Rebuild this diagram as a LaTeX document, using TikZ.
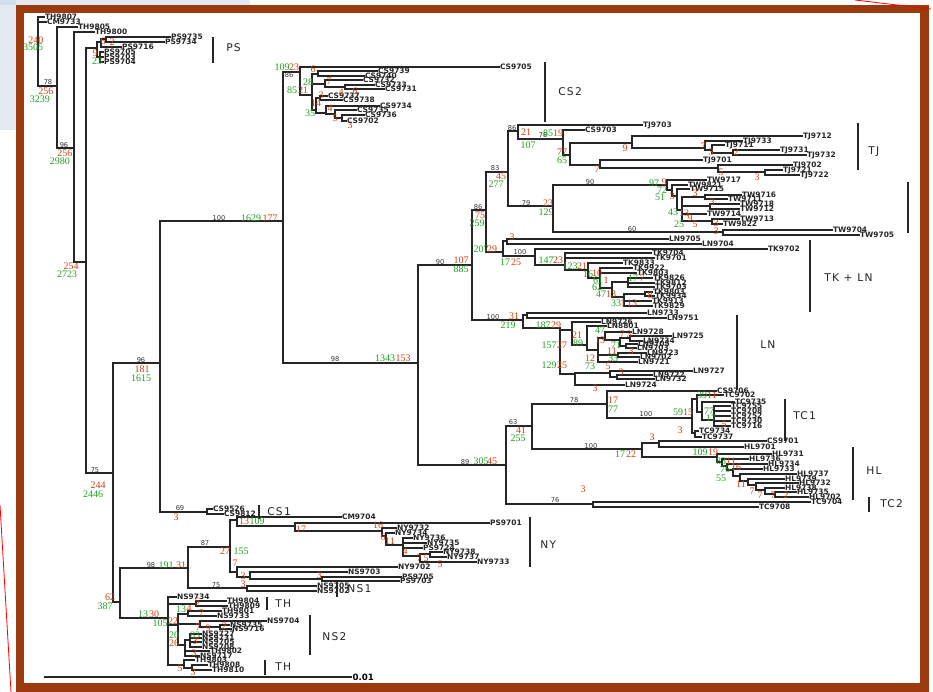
\documentclass[tikz,border=0pt]{standalone}
\usepackage{fontspec}
\newfontfamily\leaffont{DejaVu Sans}
\newfontfamily\numfont{Liberation Serif}
\newfontfamily\cladefont[LetterSpace=12]{DejaVu Sans}
\definecolor{framec}{HTML}{9B3A0F}
\definecolor{numred}{HTML}{D04010}
\definecolor{numgreen}{HTML}{1FA01F}
\definecolor{wm}{HTML}{BFD0E2}
\newcount\nodecnt
\tikzset{
 br/.style={line width=0.95pt, black!85, line cap=rect},
 leaf/.style={anchor=west, inner sep=0.6pt, font={\leaffont\bfseries\fontsize{5.6}{6}\selectfont}, text=black!85},
 rnum/.style={inner sep=0pt, font={\numfont\fontsize{7.5}{8}\selectfont}, text=numred},
 gnum/.style={inner sep=0pt, font={\numfont\fontsize{7.5}{8}\selectfont}, text=numgreen},
 bnum/.style={inner sep=0pt, font={\leaffont\fontsize{5}{5}\selectfont}, text=black!80},
 cbar/.style={line width=1.3pt, black!85},
 clade/.style={anchor=west, inner sep=0pt, font={\cladefont\fontsize{8}{9}\selectfont}, text=black!85}
}
\newcommand\vlin[3]{\draw[br] (#1,#2) -- (#1,#3);}
\newcommand\hlin[3]{\draw[br] (#1,#3) -- (#2,#3);}
\newcommand\leafl[4]{\global\advance\nodecnt by 1 \node[leaf] (lf\the\nodecnt) at (#2,#3) {#4}; \draw[br] (#1,#3) -- (lf\the\nodecnt.west);}
\newcommand\numr[3]{\global\advance\nodecnt by 1 \node[rnum] (nm\the\nodecnt) at (#1,#2) {#3};}
\newcommand\numg[3]{\global\advance\nodecnt by 1 \node[gnum] (nm\the\nodecnt) at (#1,#2) {#3};}
\newcommand\numb[3]{\global\advance\nodecnt by 1 \node[bnum] (nm\the\nodecnt) at (#1,#2) {#3};}
\newcommand\cladebar[3]{\draw[cbar] (#1,#2) -- (#1,#3);}
\newcommand\cladelab[3]{\global\advance\nodecnt by 1 \node[clade] (cl\the\nodecnt) at (#1,#2) {#3};}
\begin{document}
\begin{tikzpicture}[x=0.75pt,y=-0.75pt]
\useasboundingbox (0,0) rectangle (933,692);
\fill[white] (0,0) rectangle (933,692);
\fill[wm,opacity=0.45] (0,0) rectangle (250,5);
\fill[wm,opacity=0.45] (0,0) rectangle (16,130);
\fill[framec] (16,5) rectangle (929,692);
\fill[white] (24,13) rectangle (920,683);
\draw[red,line width=0.6pt] (0,505) -- (11,692);
\draw[red,line width=0.6pt] (855,0) -- (931,9);
% ---------- backbone ----------
\vlin{38}{17}{86}
\hlin{38}{57}{86}
\leafl{38}{44}{17}{TH9807}
\leafl{38}{46}{22}{CM9733}
\vlin{57}{27}{148}
\hlin{57}{74}{148}
\leafl{57}{77}{27}{TH9805}
\vlin{74}{32}{262}
\hlin{74}{86}{262}
\leafl{74}{94}{32}{TH9800}
\vlin{86}{48}{473}
\hlin{86}{97}{48}
\hlin{86}{113}{473}
\vlin{113}{363}{602}
\hlin{113}{160}{363}
\hlin{113}{120}{602}
\vlin{120}{568}{618}
\hlin{120}{188}{568}
\hlin{120}{168}{618}
\vlin{160}{221}{512}
\hlin{160}{283}{221}
\hlin{160}{207}{512}
\vlin{283}{72}{363}
\hlin{283}{418}{363}
\vlin{418}{265}{465}
\hlin{418}{472}{265}
\hlin{418}{506}{465}
\vlin{472}{210}{320}
\hlin{472}{486}{210}
\hlin{472}{523}{320}
\vlin{486}{172}{252}
\hlin{486}{508}{172}
\hlin{486}{503}{252}
\vlin{508}{131}{206}
\hlin{508}{518}{131}
\hlin{508}{553}{206}
\numr{36}{40}{240} \numg{33}{47}{3505}
\numb{48}{82}{78} \numr{46}{91}{256} \numg{40}{99}{3239}
\numb{64}{145}{96} \numr{65}{153}{256} \numg{60}{161}{2980}
\numr{71}{266}{254} \numg{67}{274}{2723}
\numb{95}{470}{75} \numr{98}{485}{244} \numg{93}{494}{2446}
\numb{141}{360}{96} \numr{142}{369}{181} \numg{141}{378}{1615}
\numr{110}{597}{62} \numg{105}{606}{387}
\numb{219}{218}{100} \numg{251}{218}{1629} \numr{270}{218}{177}
\numb{335}{359}{98} \numg{385}{358}{1343} \numr{403}{358}{153}
\numb{440}{262}{90} \numr{461}{260}{107} \numg{461}{269}{885}
\numb{465}{462}{89} \numg{481}{461}{305} \numr{492}{461}{45}
\numb{478}{207}{86} \numr{480}{215}{75} \numg{477}{223}{259}
\numb{495}{168}{83} \numr{501}{176}{45} \numg{496}{184}{277}
\numb{512}{128}{86}
\numb{526}{203}{79} \numr{548}{203}{23} \numg{546}{212}{129}
% ---------- PS ----------
\vlin{97}{42}{57}
\hlin{97}{101}{42}
\vlin{101}{39}{47}
\hlin{101}{106}{39}
\vlin{106}{37}{42}
\leafl{106}{170}{37}{PS9735}
\leafl{106}{164}{42}{PS9734}
\leafl{101}{121}{47}{PS9716}
\hlin{97}{100}{57}
\vlin{100}{52}{62}
\leafl{100}{103}{52}{PS9705}
\leafl{100}{103}{57}{PS9703}
\leafl{100}{103}{62}{PS9704}
\numr{103}{41}{6} \numr{112}{42}{2} \numr{95}{53}{9} \numg{97}{61}{23}
\cladebar{213}{37}{63} \cladelab{226}{48}{PS}
% ---------- CS2 ----------
\hlin{283}{300}{72}
\vlin{300}{67}{95}
\leafl{300}{499}{67}{CS9705}
\hlin{300}{312}{95}
\vlin{312}{74}{110}
\hlin{312}{318}{74}
\vlin{318}{71}{76}
\leafl{318}{377}{71}{CS9739}
\leafl{318}{364}{76}{CS9740}
\hlin{312}{325}{84}
\vlin{325}{80}{87}
\leafl{325}{362}{80}{CS9732}
\hlin{325}{345}{87}
\vlin{345}{85}{89}
\leafl{345}{374}{85}{CS9733}
\leafl{345}{384}{89}{CS9731}
\hlin{312}{316}{110}
\vlin{316}{98}{113}
\hlin{316}{320}{98}
\vlin{320}{96}{100}
\leafl{320}{327}{96}{CS9737}
\leafl{320}{342}{100}{CS9738}
\hlin{316}{326}{113}
\vlin{326}{106}{114}
\leafl{326}{379}{106}{CS9734}
\hlin{326}{335}{114}
\vlin{335}{110}{118}
\leafl{335}{356}{110}{CS9735}
\hlin{335}{342}{118}
\vlin{342}{115}{121}
\leafl{342}{364}{115}{CS9736}
\leafl{342}{346}{121}{CS9702}
\numg{282}{67}{109} \numr{294}{67}{23} \numb{289}{75}{86}
\numg{292}{90}{85} \numr{303}{90}{21} \numg{308}{82}{28}
\numr{313}{69}{6} \numr{329}{81}{7} \numr{341}{92}{4} \numr{355}{91}{6}
\numr{321}{95}{3} \numr{316}{103}{14} \numg{310}{113}{35}
\numr{330}{108}{4} \numr{335}{118}{5} \numr{350}{125}{3}
\cladebar{545}{62}{122} \cladelab{558}{92}{CS2}
% ---------- TJ ----------
\vlin{518}{125}{139}
\leafl{518}{642}{125}{TJ9703}
\hlin{518}{563}{139}
\vlin{563}{130}{155}
\leafl{563}{584}{130}{CS9703}
\hlin{563}{570}{155}
\vlin{570}{143}{165}
\hlin{570}{632}{143}
\vlin{632}{136}{148}
\leafl{632}{802}{136}{TJ9712}
\hlin{632}{705}{148}
\vlin{705}{141}{150}
\leafl{705}{742}{141}{TJ9733}
\hlin{705}{712}{150}
\vlin{712}{145}{153}
\leafl{712}{724}{145}{TJ9711}
\hlin{712}{733}{153}
\vlin{733}{150}{155}
\leafl{733}{779}{150}{TJ9731}
\leafl{733}{806}{155}{TJ9732}
\hlin{570}{600}{165}
\vlin{600}{160}{168}
\leafl{600}{702}{160}{TJ9701}
\hlin{600}{718}{168}
\vlin{718}{165}{172}
\leafl{718}{792}{165}{TJ9702}
\hlin{718}{765}{172}
\vlin{765}{170}{175}
\leafl{765}{782}{170}{TJ9721}
\leafl{765}{799}{175}{TJ9722}
\numr{526}{132}{21} \numg{528}{145}{107} \numb{543}{135}{78}
\numg{548}{133}{85} \numr{558}{133}{19}
\numr{562}{152}{77} \numg{562}{160}{65}
\numr{625}{148}{9} \numr{703}{146}{7} \numr{711}{152}{3} \numr{736}{152}{2}
\numr{597}{169}{7} \numr{721}{172}{5} \numr{757}{177}{3}
\cladebar{858}{123}{170} \cladelab{868}{152}{TJ}
% ---------- TW ----------
\vlin{553}{185}{232}
\hlin{553}{667}{185}
\hlin{553}{723}{232}
\vlin{723}{230}{235}
\leafl{723}{832}{230}{TW9704}
\leafl{723}{859}{235}{TW9705}
\vlin{667}{180}{190}
\leafl{667}{706}{180}{TW9717}
\hlin{667}{672}{190}
\vlin{672}{185}{196}
\leafl{672}{687}{185}{TW9821}
\hlin{672}{677}{196}
\vlin{677}{189}{210}
\leafl{677}{689}{189}{TW9715}
\hlin{677}{682}{210}
\vlin{682}{197}{221}
\hlin{682}{705}{197}
\vlin{705}{195}{199}
\leafl{705}{741}{195}{TW9716}
\leafl{705}{727}{199}{TW9711}
\hlin{682}{710}{206}
\vlin{710}{204}{209}
\leafl{710}{739}{204}{TW9718}
\leafl{710}{739}{209}{TW9712}
\leafl{682}{706}{214}{TW9714}
\hlin{682}{712}{221}
\vlin{712}{219}{224}
\leafl{712}{739}{219}{TW9713}
\leafl{712}{722}{224}{TW9822}
\numb{590}{182}{90} \numg{654}{183}{97} \numr{664}{182}{9}
\numb{632}{229}{60}
\numg{662}{190}{72} \numg{660}{197}{51} \numr{672}{196}{3}
\numr{695}{193}{3} \numr{712}{202}{3}
\numg{673}{212}{43} \numr{684}{213}{13} \numr{690}{218}{9}
\numg{679}{224}{25} \numr{695}{224}{5} \numr{716}{223}{3} \numr{716}{231}{3}
\cladebar{908}{182}{233}
% ---------- TK + LN ----------
\vlin{503}{241}{256}
\hlin{503}{507}{241}
\vlin{507}{239}{244}
\leafl{507}{668}{239}{LN9705}
\leafl{507}{701}{244}{LN9704}
\hlin{503}{535}{256}
\vlin{535}{249}{265}
\leafl{535}{767}{249}{TK9702}
\hlin{535}{565}{265}
\vlin{565}{253}{270}
\leafl{565}{651}{253}{TK9704}
\leafl{565}{654}{258}{TK9701}
\hlin{565}{588}{270}
\vlin{588}{263}{278}
\leafl{588}{622}{263}{TK9833}
\hlin{588}{600}{278}
\vlin{600}{268}{288}
\leafl{600}{632}{268}{TK9922}
\leafl{600}{636}{273}{TK9803}
\hlin{600}{612}{288}
\vlin{612}{282}{297}
\hlin{612}{628}{282}
\vlin{628}{278}{287}
\leafl{628}{652}{278}{TK9826}
\leafl{628}{654}{283}{TK9812}
\leafl{628}{654}{287}{TK9703}
\hlin{612}{624}{297}
\vlin{624}{294}{306}
\hlin{624}{645}{294}
\vlin{645}{292}{296}
\leafl{645}{652}{292}{TK9803}
\leafl{645}{654}{296}{TK9934}
\leafl{624}{651}{301}{TK9913}
\leafl{624}{652}{306}{TK9829}
\numr{512}{237}{3}
\numg{481}{249}{207} \numr{492}{249}{29}
\numb{520}{252}{100} \numg{505}{262}{17} \numr{516}{262}{25}
\numg{546}{260}{147} \numr{558}{260}{23}
\numg{570}{266}{123} \numr{582}{266}{21}
\numg{588}{274}{16} \numr{597}{273}{10}
\numg{598}{280}{61} \numr{606}{280}{1}
\numg{597}{287}{62}
\numg{601}{294}{47} \numr{611}{294}{13}
\numg{633}{278}{17} \numr{642}{278}{7}
\numr{650}{295}{8}
\numg{616}{303}{33} \numr{623}{303}{1} \numr{632}{303}{13}
\cladebar{810}{240}{312} \cladelab{824}{278}{TK + LN}
% ---------- LN ----------
\vlin{523}{315}{328}
\hlin{523}{527}{315}
\vlin{527}{313}{318}
\leafl{527}{646}{313}{LN9733}
\leafl{527}{666}{318}{LN9751}
\hlin{523}{560}{328}
\vlin{560}{330}{374}
\hlin{560}{572}{330}
\vlin{572}{322}{345}
\leafl{572}{600}{322}{LN9726}
\hlin{572}{587}{345}
\vlin{587}{326}{350}
\leafl{587}{606}{326}{LN8801}
\hlin{587}{598}{350}
\vlin{598}{338}{362}
\hlin{598}{605}{338}
\vlin{605}{332}{340}
\leafl{605}{631}{332}{LN9728}
\hlin{605}{620}{340}
\vlin{620}{338}{346}
\hlin{620}{630}{338}
\vlin{630}{336}{341}
\leafl{630}{671}{336}{LN9725}
\leafl{630}{642}{341}{LN9734}
\hlin{620}{626}{346}
\vlin{626}{344}{348}
\leafl{626}{637}{344}{LN9705}
\leafl{626}{636}{348}{LN9703}
\hlin{598}{618}{355}
\vlin{618}{353}{357}
\leafl{618}{646}{353}{LN9723}
\leafl{618}{639}{357}{LN9702}
\leafl{598}{637}{362}{LN9721}
\hlin{560}{575}{374}
\vlin{575}{373}{385}
\hlin{575}{610}{373}
\vlin{610}{371}{377}
\leafl{610}{692}{371}{LN9727}
\hlin{610}{617}{377}
\vlin{617}{375}{379}
\leafl{617}{652}{375}{LN9722}
\leafl{617}{654}{379}{LN9732}
\leafl{575}{624}{385}{LN9724}
\numb{493}{317}{100} \numr{514}{316}{31} \numg{508}{325}{219}
\numg{543}{325}{187} \numr{556}{325}{29}
\numg{549}{345}{157} \numr{562}{345}{27}
\numg{549}{365}{129} \numr{562}{365}{25}
\numr{577}{335}{21} \numg{578}{343}{89}
\numg{600}{330}{47} \numr{600}{340}{13}
\numr{622}{334}{7} \numr{629}{334}{3}
\numg{616}{345}{71}
\numr{612}{351}{11} \numg{613}{358}{33}
\numr{631}{351}{3}
\numr{590}{358}{12} \numg{590}{366}{73}
\numr{608}{366}{5} \numr{621}{372}{3}
\numr{595}{388}{3}
\cladebar{737}{315}{390} \cladelab{760}{345}{LN}
% ---------- TC1 ----------
\vlin{506}{426}{504}
\hlin{506}{532}{426}
\vlin{532}{404}{449}
\hlin{532}{607}{404}
\vlin{607}{391}{418}
\leafl{607}{716}{391}{CS9706}
\hlin{607}{692}{418}
\vlin{692}{399}{433}
\hlin{692}{697}{399}
\vlin{697}{395}{412}
\leafl{697}{723}{395}{TC9702}
\hlin{697}{702}{412}
\vlin{702}{402}{420}
\leafl{702}{734}{402}{TC9735}
\hlin{702}{714}{420}
\vlin{714}{406}{426}
\leafl{714}{730}{406}{TC9755}
\leafl{714}{730}{411}{TC9708}
\leafl{714}{730}{416}{TC9752}
\leafl{714}{730}{421}{TC9730}
\leafl{714}{730}{426}{TC9716}
\hlin{692}{695}{433}
\vlin{695}{431}{437}
\leafl{695}{698}{431}{TC9734}
\leafl{695}{701}{437}{TC9737}
\numb{513}{422}{63} \numr{521}{430}{41} \numg{518}{438}{255}
\numb{574}{400}{78} \numr{613}{400}{17} \numg{613}{409}{77}
\numg{702}{395}{39} \numr{712}{395}{11}
\numb{646}{414}{100} \numg{678}{412}{59} \numr{688}{412}{15}
\numg{709}{411}{77} \numg{711}{418}{17} \numr{724}{424}{5} \numr{680}{430}{3}
\cladebar{785}{399}{441} \cladelab{793}{416}{TC1}
% ---------- HL ----------
\hlin{532}{642}{449}
\vlin{642}{443}{457}
\hlin{642}{659}{443}
\vlin{659}{441}{447}
\leafl{659}{766}{441}{CS9701}
\leafl{659}{743}{447}{HL9701}
\hlin{642}{717}{457}
\vlin{717}{454}{462} \leafl{717}{771}{454}{HL9731}
\hlin{717}{722}{462} \vlin{722}{459}{466} \leafl{722}{748}{459}{HL9736}
\hlin{722}{727}{466} \vlin{727}{464}{470} \leafl{727}{767}{464}{HL9734}
\hlin{727}{733}{470} \vlin{733}{469}{476} \leafl{733}{762}{469}{HL9733}
\hlin{733}{740}{476} \vlin{740}{474}{481} \leafl{740}{796}{474}{HL9737}
\hlin{740}{748}{481} \vlin{748}{479}{485} \leafl{748}{784}{479}{HL9739}
\hlin{748}{756}{485} \vlin{756}{483}{490} \leafl{756}{798}{483}{HL9732}
\hlin{756}{765}{490} \vlin{765}{488}{494} \leafl{765}{784}{488}{HL9738}
\hlin{765}{775}{494} \vlin{775}{492}{497} \leafl{775}{796}{492}{HL9735} \leafl{775}{808}{497}{HL9702}
\numb{591}{446}{100} \numg{620}{454}{17} \numr{631}{454}{22} \numr{652}{437}{3}
\numg{700}{452}{109} \numr{713}{452}{19}
\numg{721}{461}{83} \numr{731}{461}{11} \numg{725}{469}{76} \numr{736}{467}{16}
\numg{721}{478}{55} \numr{741}{484}{11}
\numr{752}{491}{7} \numr{760}{495}{7} \numr{773}{495}{7} \numr{786}{495}{2}
\cladebar{853}{447}{500} \cladelab{866}{471}{HL}
% ---------- TC2 ----------
\hlin{506}{593}{504}
\vlin{593}{502}{507}
\leafl{593}{810}{502}{TC9704}
\leafl{593}{758}{507}{TC9708}
\numb{555}{500}{76} \numr{583}{489}{3}
\cladebar{869}{497}{512} \cladelab{880}{504}{TC2}
% ---------- CS1 ----------
\vlin{207}{509}{514}
\leafl{207}{212}{509}{CS9526}
\leafl{207}{223}{514}{CS9812}
\numb{180}{508}{69} \numr{176}{517}{3}
\cladebar{259}{505}{519} \cladelab{267}{512}{CS1}
% ---------- NY / NS1 ----------
\vlin{188}{547}{588}
\hlin{188}{230}{547}
\hlin{188}{247}{588}
\vlin{230}{520}{572}
\hlin{230}{237}{520}
\vlin{237}{517}{526}
\leafl{237}{341}{517}{CM9704}
\hlin{237}{295}{526}
\vlin{295}{523}{531}
\leafl{295}{489}{523}{PS9701}
\hlin{295}{382}{531}
\vlin{382}{528}{536}
\leafl{382}{396}{528}{NY9732}
\hlin{382}{386}{536}
\vlin{386}{533}{545}
\leafl{386}{394}{533}{NY9734}
\hlin{386}{403}{545}
\vlin{403}{538}{556}
\leafl{403}{412}{538}{NY9736}
\leafl{403}{426}{543}{NY9735}
\leafl{403}{422}{548}{PS9724}
\hlin{403}{420}{556}
\vlin{420}{554}{562}
\hlin{420}{430}{554}
\vlin{430}{552}{557}
\leafl{430}{442}{552}{NY9738}
\leafl{430}{446}{557}{NY9737}
\leafl{420}{476}{562}{NY9733}
\hlin{230}{237}{572}
\vlin{237}{567}{577}
\leafl{237}{397}{567}{NY9702}
\hlin{237}{250}{577}
\vlin{250}{572}{579}
\leafl{250}{347}{572}{NS9703}
\hlin{250}{322}{579}
\vlin{322}{577}{581}
\leafl{322}{401}{577}{PS9705}
\leafl{322}{399}{581}{PS9703}
\vlin{247}{586}{591}
\leafl{247}{316}{586}{NS9705}
\leafl{247}{316}{591}{NS9702}
\numb{151}{565}{98} \numg{166}{565}{191} \numr{181}{565}{31}
\numb{205}{543}{87} \numb{216}{585}{75}
\numr{225}{551}{27} \numg{241}{551}{155}
\numr{244}{521}{13} \numg{257}{521}{109}
\numr{301}{529}{17} \numr{378}{525}{16} \numr{383}{537}{6} \numr{390}{541}{11}
\numr{405}{551}{4} \numr{419}{558}{7} \numr{426}{558}{5} \numr{440}{564}{5}
\numr{235}{563}{7} \numr{243}{576}{3} \numr{243}{584}{3} \numr{319}{575}{3}
\cladebar{530}{517}{567} \cladelab{540}{545}{NY}
\cladebar{337}{582}{597} \cladelab{347}{589}{NS1}
% ---------- NS2 / TH ----------
\vlin{168}{597}{665}
\leafl{168}{176}{597}{NS9734}
\hlin{168}{196}{604}
\vlin{196}{601}{606}
\leafl{196}{226}{601}{TH9804}
\leafl{196}{227}{606}{TH9809}
\hlin{168}{178}{625}
\vlin{178}{614}{645}
\hlin{178}{188}{614}
\vlin{188}{611}{616}
\leafl{188}{221}{611}{TH9801}
\leafl{188}{216}{616}{NS9733}
\hlin{178}{200}{624}
\vlin{200}{621}{627}
\leafl{200}{266}{621}{NS9704}
\hlin{200}{220}{627}
\vlin{220}{625}{629}
\leafl{220}{229}{625}{NS9735}
\leafl{220}{231}{629}{NS9716}
\hlin{178}{185}{645}
\vlin{185}{640}{656}
\hlin{185}{190}{640}
\vlin{190}{634}{647}
\leafl{190}{201}{634}{NS9727}
\leafl{190}{201}{638}{NS9731}
\leafl{190}{201}{642}{NS9705}
\leafl{190}{201}{647}{NS9708}
\leafl{185}{209}{651}{TH9802}
\leafl{185}{199}{656}{NS9717}
\hlin{168}{184}{665}
\vlin{184}{660}{668}
\leafl{184}{194}{660}{TH9803}
\hlin{184}{192}{668}
\vlin{192}{665}{670}
\leafl{192}{207}{665}{TH9808}
\leafl{192}{211}{670}{TH9810}
\numg{143}{614}{13} \numr{154}{614}{30} \numg{160}{623}{105} \numr{173}{621}{22}
\numg{181}{609}{13} \numr{189}{608}{4} \numr{201}{613}{7} \numr{197}{601}{5}
\numr{198}{627}{7} \numr{208}{628}{9} \numr{224}{626}{2}
\numg{174}{635}{20} \numr{174}{643}{26} \numg{195}{635}{83} \numr{195}{641}{3}
\numr{194}{653}{3} \numr{180}{668}{5} \numr{193}{672}{3}
\cladebar{267}{597}{610} \cladelab{275}{604}{TH}
\cladebar{310}{615}{655} \cladelab{322}{637}{NS2}
\cladebar{265}{660}{675} \cladelab{275}{667}{TH}
% ---------- scale bar ----------
\coordinate (sbl) at (45,677);
\node[anchor=west, inner sep=1pt, font={\leaffont\bfseries\fontsize{6.5}{7}\selectfont}] (sblab) at (351,677) {0.01};
\draw[br] (sbl) -- (sblab.west);
\end{tikzpicture}
\end{document}
